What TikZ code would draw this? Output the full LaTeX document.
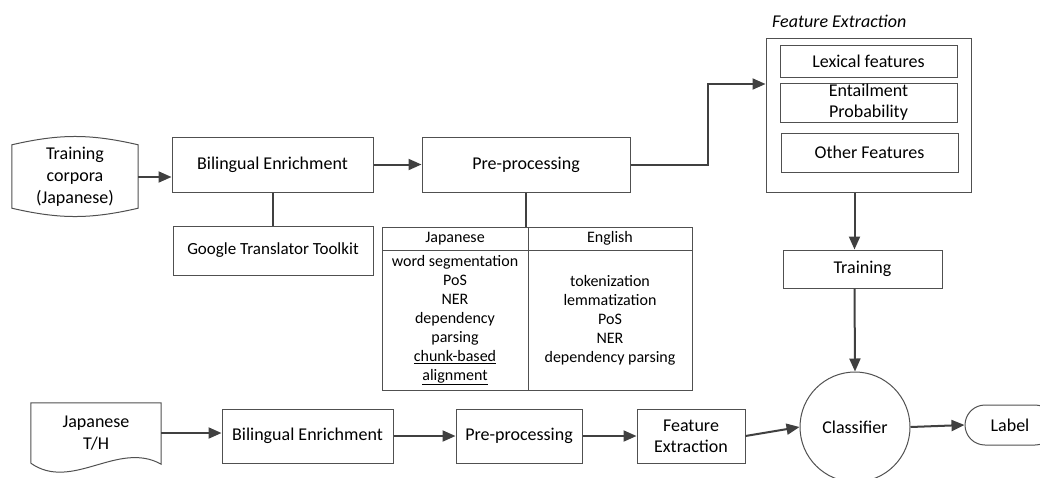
\documentclass[tikz,border=0pt]{standalone}
\usepackage{fontspec}
\setmainfont{Carlito}
\usepackage{xcolor}
\usetikzlibrary{arrows.meta, positioning, calc}
\definecolor{edge}{HTML}{404040}
\definecolor{frame}{HTML}{505050}

\begin{document}
\begin{tikzpicture}[x=1pt, y=-1pt,
				>={Triangle[length=13pt, width=11pt]},
				font=\fontsize{18}{22}\selectfont,
				box/.style={draw=frame, line width=1pt, inner sep=0pt, align=center},
				cell/.style={draw=frame, line width=1pt, inner sep=0pt, align=center, font=\fontsize{16}{19}\selectfont},
				arr/.style={->, draw=edge, line width=2pt},
				link/.style={draw=edge, line width=2pt}]
				\useasboundingbox (0,0) rectangle (1040,477);
				% training path
				\node at (75,177) (corpora) [inner sep=0pt, minimum width=126pt, minimum height=78pt, align=center] {Training\\corpora\\(Japanese)};
				\draw[frame, line width=1pt] ([yshift=-7pt]corpora.north west) to[bend left=13] ([yshift=-7pt]corpora.north east)
					-- ([yshift=8pt]corpora.south east) to[bend left=13] ([yshift=8pt]corpora.south west) -- cycle;
				\node at (272.5,164.5) (bil) [box, minimum width=201pt, minimum height=55pt] {Bilingual Enrichment};
				\node at (273,250.5) (google) [box, minimum width=200pt, minimum height=49pt, font=\fontsize{17}{20}\selectfont] {Google Translator Toolkit};
				\node at (526,164.5) (pre) [box, minimum width=208pt, minimum height=55pt] {Pre-processing};
				% pre-processing table
				\node at (455,238.5) (jphead) [cell, minimum width=146pt, minimum height=23pt] {Japanese};
				\node at (610,238.5) (enhead) [cell, minimum width=164pt, minimum height=23pt] {English};
				\node at (455,320) (jpbody) [cell, minimum width=146pt, minimum height=140pt] {word segmentation\\PoS\\NER\\dependency\\parsing\\\underline{chunk-based}\\\underline{alignment}};
				\node at (610,320) (enbody) [cell, minimum width=164pt, minimum height=140pt] {tokenization\\lemmatization\\PoS\\NER\\dependency parsing};
				% feature extraction
				\node at (772,21) (fetitle) [anchor=west, inner sep=0pt] {\textit{Feature Extraction}};
				\node at (868.5,115) (fe) [box, minimum width=205pt, minimum height=154pt] {};
				\node at (868.5,61) (lex) [box, minimum width=177pt, minimum height=32pt] {Lexical features};
				\node at (868.5,102.5) (ent) [box, minimum width=177pt, minimum height=39pt, font=\fontsize{18}{21}\selectfont] {Entailment\\Probability};
				\node at (869.5,152.5) (other) [box, minimum width=177pt, minimum height=39pt] {Other Features};
				\node at (862.5,269) (training) [box, minimum width=159pt, minimum height=38pt] {Training};
				\coordinate (turn) at (708,84);
				% test path
				\node at (96,433) (doc) [inner sep=0pt, minimum width=130pt, minimum height=60pt, align=center] {Japanese\\T/H};
				\draw[frame, line width=1pt] (doc.south west) -- (doc.north west) -- (doc.north east) -- ([yshift=-1pt]doc.south east)
					.. controls (118,440) and (72,492) .. (doc.south west);
				\node at (307.5,436) (bil2) [box, minimum width=171pt, minimum height=54pt] {Bilingual Enrichment};
				\node at (519,436) (pre2) [box, minimum width=126pt, minimum height=54pt] {Pre-processing};
				\node at (691,436) (fe2) [box, minimum width=108pt, minimum height=54pt, font=\fontsize{18}{21}\selectfont] {Feature\\Extraction};
				\node at (855,427) (classifier) [circle, draw=frame, line width=1pt, minimum size=110pt, inner sep=0pt] {Classifier};
				\node at (1010,425) (label) [draw=frame, line width=1pt, rounded corners=20pt, minimum width=90pt, minimum height=40pt, inner sep=0pt] {Label};
				% connectors
				\draw[arr] (corpora.east) -- (corpora.east -| bil.west);
				\draw[arr] (bil.east) -- (pre.west);
				\draw[link] (bil.south) -- (bil.south |- google.north);
				\draw[link] (pre.south) -- (pre.south |- jphead.north);
				\draw[arr] (pre.east) -| (turn) -- (turn -| fe.west);
				\draw[arr] ([xshift=-14pt]fe.south) -- ([xshift=-8pt]training.north);
				\draw[arr] ([xshift=-8pt]training.south) -- (classifier.north);
				\draw[arr] (doc.east) -- (doc.east -| bil2.west);
				\draw[arr] (bil2.east) -- (pre2.west);
				\draw[arr] (pre2.east) -- (fe2.west);
				\draw[arr] (fe2.east) -- (classifier.west);
				\draw[arr] (classifier.east) -- (label.west);
			\end{tikzpicture}
\end{document}
